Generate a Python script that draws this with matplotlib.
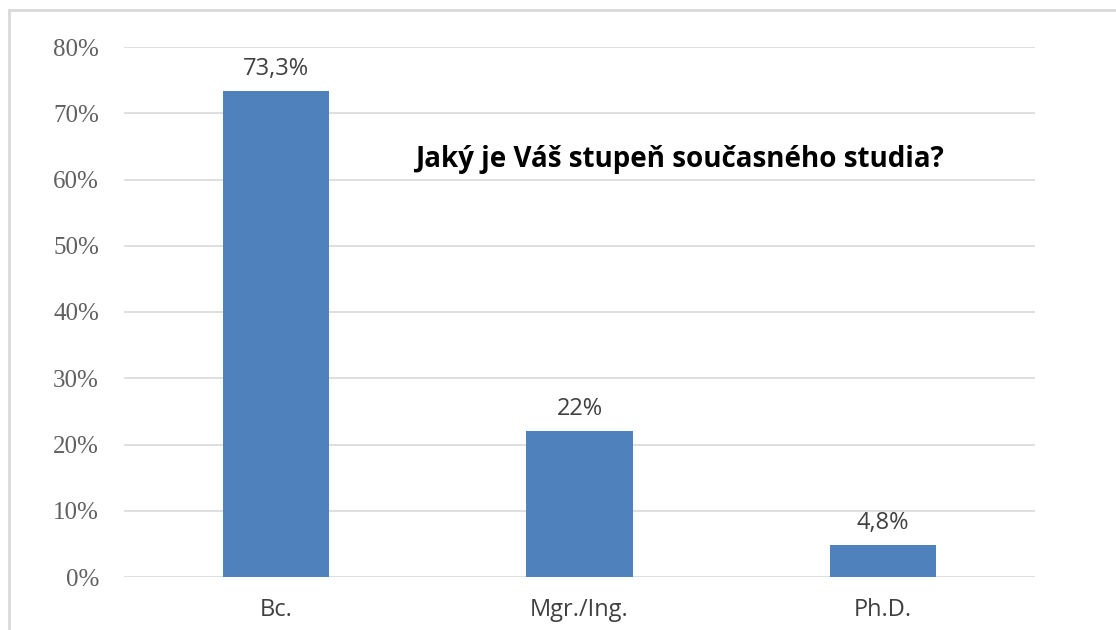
import matplotlib
matplotlib.use('Agg')
import matplotlib.pyplot as plt
from matplotlib.patches import Rectangle

# Data
categories = ['Bc.', 'Mgr./Ing.', 'Ph.D.']
values = [73.3, 22.0, 4.8]
value_labels = ['73,3%', '22%', '4,8%']
y_ticks = [0, 10, 20, 30, 40, 50, 60, 70, 80]
title = 'Jaký je Váš stupeň současného studia?'

fig = plt.figure(figsize=(11.16, 6.30), dpi=100)
ax = fig.add_axes([124 / 1116, 1 - 577 / 630, 911 / 1116, 530 / 630])

x = range(len(categories))
bars = ax.bar(x, values, width=0.35, color='#4F81BD', zorder=3)

# data labels
for b, lab in zip(bars, value_labels):
    ax.annotate(lab, (b.get_x() + b.get_width() / 2, b.get_height()),
                xytext=(0, 7.5), textcoords='offset points', ha='center', va='bottom',
                fontsize=17, color='#404040', family='Open Sans')

ax.set_xlim(-0.5, 2.5)
ax.set_ylim(0, 80)
ax.set_yticks(y_ticks)
ax.set_yticklabels([f'{t}%' for t in y_ticks], family='Liberation Serif', fontsize=18, color='#606060')
ax.set_xticks(list(x))
ax.set_xticklabels(categories, family='Open Sans', fontsize=17, color='#404040')
ax.tick_params(axis='both', length=0)
ax.tick_params(axis='y', pad=18)
ax.tick_params(axis='x', pad=15)
ax.grid(axis='y', color='#D9D9D9', linewidth=1.2, zorder=0)
for s in ax.spines.values():
    s.set_visible(False)

ax.text(0.61, 0.787, title, transform=ax.transAxes, ha='center', va='center',
        fontsize=20, fontweight='bold', family='Open Sans', color='black')

# outer chart frame (only left and top edges visible)
fig.patches.append(Rectangle((9 / 1116, -0.1), 1.2, 1 - 10 / 630 + 0.1, transform=fig.transFigure,
                             fill=False, edgecolor='#D9D9D9', linewidth=2))

fig.savefig('out.png', dpi=100, facecolor='white')
